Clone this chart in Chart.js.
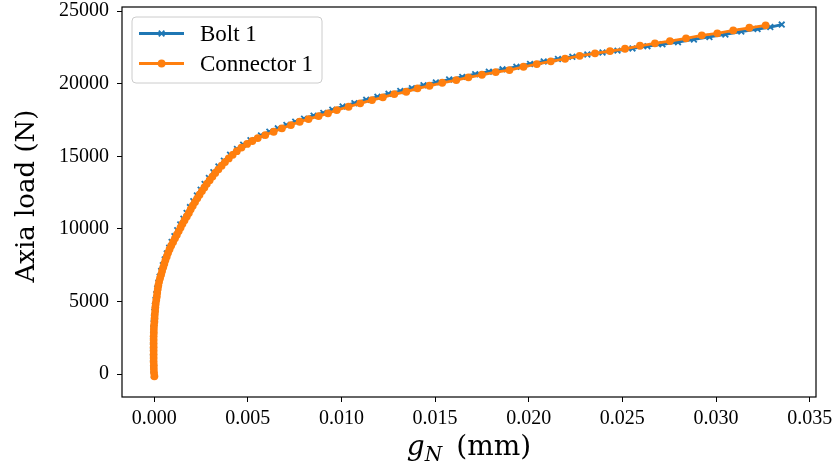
<!DOCTYPE html>
<html>
<head>
<meta charset="utf-8">
<script src="https://cdn.jsdelivr.net/npm/chart.js@4.4.1/dist/chart.umd.min.js"></script>
<style>
  html, body { margin: 0; padding: 0; background: #fff; }
  #wrap { width: 833px; height: 466px; }
</style>
</head>
<body>
<div id="wrap"><canvas id="loadChart" width="833" height="466"></canvas></div>
<script>
// Connector 1 (orange, circles)
const connX = [0.00001, -0.00001, -0.00002, -0.00002, -0.00003, -0.00003, -0.00003, -0.00003, -0.00003, -0.00003,
    -0.00003, -0.00003, -0.00002, -0.00002, -0.00001, 0.00001, 0.00002, 0.00003, 0.00005, 0.00006,
    0.00008, 0.00011, 0.00014, 0.00016, 0.00019, 0.00022, 0.00026, 0.00031, 0.00037, 0.00042,
    0.00048, 0.00054, 0.00060, 0.00067, 0.00074, 0.00082, 0.00091, 0.00101, 0.00111, 0.00121,
    0.00131, 0.00141, 0.00151, 0.00162, 0.00174, 0.00185, 0.00195, 0.00206, 0.00218, 0.00230,
    0.00242, 0.00255, 0.00268, 0.00281, 0.00296, 0.00311, 0.00326, 0.00343, 0.00360, 0.00378,
    0.00398, 0.00419, 0.00441, 0.00466, 0.00496, 0.00524, 0.00553, 0.00593, 0.00638, 0.00682,
    0.00730, 0.00777, 0.00824, 0.00878, 0.00928, 0.00975, 0.01038, 0.01100, 0.01163, 0.01221,
    0.01282, 0.01346, 0.01406, 0.01470, 0.01538, 0.01613, 0.01678, 0.01750, 0.01824, 0.01897,
    0.01972, 0.02043, 0.02118, 0.02194, 0.02272, 0.02354, 0.02434, 0.02514, 0.02594, 0.02674,
    0.02754, 0.02840, 0.02924, 0.03007, 0.03092, 0.03178, 0.03265];
const connY = [-150, 100, 350, 600, 850, 1100, 1350, 1600, 1850, 2100,
    2350, 2600, 2850, 3100, 3350, 3600, 3850, 4100, 4350, 4600,
    4850, 5100, 5350, 5600, 5850, 6100, 6350, 6600, 6850, 7100,
    7350, 7600, 7850, 8100, 8350, 8600, 8850, 9100, 9350, 9600,
    9850, 10100, 10350, 10600, 10850, 11100, 11350, 11600, 11850, 12100,
    12350, 12600, 12850, 13100, 13350, 13600, 13850, 14100, 14350, 14600,
    14850, 15100, 15350, 15600, 15850, 16050, 16250, 16460, 16687, 16921,
    17149, 17376, 17562, 17769, 17955, 18182, 18409, 18643, 18870, 19056,
    19284, 19442, 19676, 19855, 20062, 20248, 20434, 20613, 20799, 20937,
    21164, 21350, 21536, 21715, 21915, 22087, 22245, 22404, 22610, 22775,
    22934, 23120, 23326, 23464, 23670, 23850, 24015];

// Bolt 1 (blue, x markers)
const boltX = [-0.00002, -0.00004, -0.00005, -0.00006, -0.00006, -0.00006, -0.00006, -0.00005, -0.00004, -0.00003,
    -0.00001, 0.00001, 0.00004, 0.00007, 0.00011, 0.00016, 0.00022, 0.00029, 0.00037, 0.00046,
    0.00056, 0.00067, 0.00080, 0.00093, 0.00108, 0.00123, 0.00139, 0.00156, 0.00173, 0.00191,
    0.00209, 0.00228, 0.00248, 0.00269, 0.00292, 0.00316, 0.00343, 0.00372, 0.00405, 0.00442,
    0.00475, 0.00514, 0.00570, 0.00615, 0.00660, 0.00706, 0.00753, 0.00800, 0.00851, 0.00903,
    0.00951, 0.01006, 0.01069, 0.01132, 0.01192, 0.01251, 0.01314, 0.01376, 0.01438, 0.01504,
    0.01575, 0.01645, 0.01714, 0.01787, 0.01860, 0.01934, 0.02007, 0.02080, 0.02156, 0.02233,
    0.02313, 0.02394, 0.02474, 0.02554, 0.02634, 0.02714, 0.02797, 0.02882, 0.02965, 0.03050,
    0.03135, 0.03222, 0.03290, 0.03351];
const boltY = [-100, 300, 700, 1100, 1500, 1900, 2300, 2700, 3100, 3500,
    3900, 4300, 4700, 5100, 5500, 5900, 6300, 6700, 7100, 7500,
    7900, 8300, 8700, 9100, 9500, 9900, 10300, 10700, 11100, 11500,
    11900, 12300, 12700, 13100, 13500, 13900, 14300, 14700, 15100, 15500,
    15800, 16100, 16440, 16685, 16924, 17155, 17380, 17590, 17795, 17990,
    18200, 18425, 18656, 18887, 19093, 19300, 19493, 19690, 19895, 20090,
    20285, 20470, 20653, 20826, 20988, 21160, 21356, 21532, 21695, 21855,
    22010, 22146, 22275, 22427, 22582, 22715, 22857, 23043, 23215, 23387,
    23590, 23762, 23900, 24070];

const seriesNames = ['Bolt 1', 'Connector 1'];
const xTicks = [0, 0.005, 0.010, 0.015, 0.020, 0.025, 0.030, 0.035];
const yTicks = [0, 5000, 10000, 15000, 20000, 25000];

const BLUE = '#1f77b4';
const ORANGE = '#ff7f0e';
const tickFont = { family: '"Liberation Serif", "Times New Roman", serif', size: 20 };

function toPoints(xs, ys) {
    return xs.map((x, i) => ({ x: x, y: ys[i] }));
}

// Draws the frame, the legend box and the axis titles
const decorations = {
    id: 'decorations',
    afterDatasetsDraw(chart) {
        const { ctx, chartArea: a } = chart;
        ctx.save();
        ctx.strokeStyle = '#000';
        ctx.lineWidth = 1.2;
        ctx.strokeRect(a.left, a.top, a.right - a.left, a.bottom - a.top);
        ctx.restore();
    },
    afterDraw(chart) {
        const { ctx, chartArea: a } = chart;
        ctx.save();

        // legend
        const lx = 132, ly = 17, lw = 190, lh = 66;
        ctx.beginPath();
        ctx.roundRect(lx, ly, lw, lh, 4);
        ctx.fillStyle = 'rgba(255,255,255,0.8)';
        ctx.fill();
        ctx.strokeStyle = '#cccccc';
        ctx.lineWidth = 1;
        ctx.stroke();

        const rows = [33.5, 63.5];
        const colors = [BLUE, ORANGE];
        rows.forEach((ry, i) => {
            ctx.strokeStyle = colors[i];
            ctx.lineWidth = 2.8;
            ctx.beginPath();
            ctx.moveTo(139, ry);
            ctx.lineTo(184, ry);
            ctx.stroke();
            if (i === 0) {
                ctx.lineWidth = 1.8;
                ctx.beginPath();
                ctx.moveTo(158.8, ry - 2.8); ctx.lineTo(164.4, ry + 2.8);
                ctx.moveTo(158.8, ry + 2.8); ctx.lineTo(164.4, ry - 2.8);
                ctx.stroke();
            } else {
                ctx.fillStyle = colors[i];
                ctx.beginPath();
                ctx.arc(161.6, ry, 3.9, 0, Math.PI * 2);
                ctx.fill();
            }
            ctx.fillStyle = '#000';
            ctx.font = '23px "Liberation Serif", serif';
            ctx.textAlign = 'left';
            ctx.textBaseline = 'middle';
            ctx.fillText(seriesNames[i], 200, ry + 1);
        });

        // y axis title
        ctx.save();
        ctx.translate(27, 196);
        ctx.rotate(-Math.PI / 2);
        ctx.font = '26px "DejaVu Serif", serif';
        ctx.fillStyle = '#000';
        ctx.textAlign = 'center';
        ctx.textBaseline = 'middle';
        ctx.fillText('Axia load (N)', 0, 0);
        ctx.restore();

        // x axis title: g_N (mm)
        const base = 455;
        const fMain = 'italic 28px "DejaVu Serif", serif';
        const fSub = 'italic 20px "DejaVu Serif", serif';
        const fRest = '28px "DejaVu Serif", serif';
        ctx.font = fMain; const wg = ctx.measureText('g').width;
        ctx.font = fSub; const wn = ctx.measureText('N').width;
        ctx.font = fRest; const wr = ctx.measureText('(mm)').width;
        const gap = 14;
        const total = wg + wn + gap + wr;
        let x0 = (a.left + a.right) / 2 - total / 2;
        ctx.fillStyle = '#000';
        ctx.textAlign = 'left';
        ctx.textBaseline = 'alphabetic';
        ctx.font = fMain; ctx.fillText('g', x0, base);
        ctx.font = fSub; ctx.fillText('N', x0 + wg, base + 6);
        ctx.font = fRest; ctx.fillText('(mm)', x0 + wg + wn + gap, base);

        ctx.restore();
    }
};

new Chart(document.getElementById('loadChart').getContext('2d'), {
    type: 'scatter',
    data: {
        datasets: [{
            label: seriesNames[0],
            data: toPoints(boltX, boltY),
            showLine: true,
            order: 2,
            borderColor: BLUE,
            borderWidth: 2.8,
            pointStyle: 'crossRot',
            pointRadius: 4,
            pointBorderWidth: 1.8,
            pointBorderColor: BLUE,
            pointBackgroundColor: BLUE
        }, {
            label: seriesNames[1],
            data: toPoints(connX, connY),
            showLine: true,
            order: 1,
            borderColor: ORANGE,
            borderWidth: 2.8,
            pointStyle: 'circle',
            pointRadius: 3.9,
            pointBorderWidth: 0,
            pointBackgroundColor: ORANGE
        }]
    },
    options: {
        responsive: false,
        animation: false,
        devicePixelRatio: 1,
        layout: { padding: { top: 7, right: 17, bottom: 0, left: 0 } },
        plugins: {
            legend: { display: false },
            tooltip: { enabled: false }
        },
        scales: {
            x: {
                type: 'linear',
                min: -0.00172,
                max: 0.03534,
                afterBuildTicks: (s) => { s.ticks = xTicks.map(v => ({ value: v })); },
                afterFit: (s) => { s.height = 69; s.paddingLeft = 0; s.paddingRight = 0; },
                grid: { display: true, drawOnChartArea: false, drawTicks: true, tickLength: 5, tickColor: '#000', tickWidth: 1 },
                border: { display: false },
                ticks: {
                    color: '#000',
                    font: tickFont,
                    padding: 5,
                    maxRotation: 0,
                    autoSkip: false,
                    callback: (v) => (Math.abs(v) < 1e-12 ? 0 : v).toFixed(3)
                }
            },
            y: {
                type: 'linear',
                min: -1580,
                max: 25280,
                afterBuildTicks: (s) => { s.ticks = yTicks.map(v => ({ value: v })); },
                afterFit: (s) => { s.width = 122; s.paddingTop = 0; s.paddingBottom = 0; },
                grid: { display: true, drawOnChartArea: false, drawTicks: true, tickLength: 5, tickColor: '#000', tickWidth: 1 },
                border: { display: false },
                ticks: {
                    color: '#000',
                    font: tickFont,
                    padding: 8,
                    autoSkip: false,
                    callback: (v) => String(v)
                }
            }
        }
    },
    plugins: [decorations]
});
</script>
</body>
</html>
